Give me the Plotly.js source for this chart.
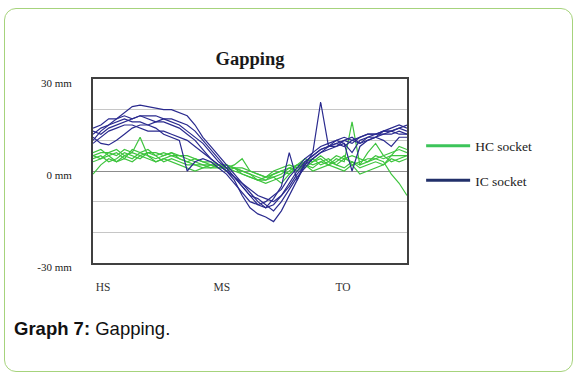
<!DOCTYPE html>
<html>
<head>
<meta charset="utf-8">
<script src="https://cdn.plot.ly/plotly-3.0.1.min.js"></script>
<style>
  html, body { margin: 0; padding: 0; background: #ffffff; }
  #wrap { position: relative; width: 578px; height: 379px; overflow: hidden; }
  #chart { position: absolute; left: 0; top: 0; width: 578px; height: 379px; }
  #frame { position: absolute; left: 4px; top: 8px; width: 567px; height: 362px;
           border: 1.5px solid #a6d37c; border-radius: 12px; pointer-events: none; }
</style>
</head>
<body>
<div id="wrap">
  <div id="chart"></div>
  <div id="frame"></div>
</div>
<script>
// Gait cycle position (% of stride)
const cycle = [0,2.5,5,7.5,10,12.5,15,17.5,20,22.5,25,27.5,30,32.5,35,37.5,40,42.5,45,47.5,50,
               52.5,55,57.5,60,62.5,65,67.5,70,72.5,75,77.5,80,82.5,85,87.5,90,92.5,95,97.5,100];

// IC socket trials (mm)
const ic1 = [12,14,15,17,19,21,21.5,21,20.5,20,20,19,18,15,11,8,5,2,-1,-4,-7,-10,-12,-11,-8,-4,0,3,5,7,8,9,10,9,11,12,12,13,14,15,14];
const ic2 = [14,15,17,17,18,17,18,17,16,16,15,14,12,10,7,4,2,0,-3,-8,-12,-14,-15,-16.5,-13,-8,-3,2,6,22.5,8,10,11,10,9,11,12,13,13,14,13];
const ic3 = [10,13,15,16,17,16,16,15,14,12,11,10,0,3,4,3,1,-1,-4,-7,-10,-11,-10,-8,-6,-2,1,4,6,8,9,10,9,0,8,10,11,12,12,13,12];
const ic4 = [11,9,8.5,10,12,14,15,15,16,17,17,16,15,13,10,7,4,1,-2,-5,-8,-9,-11,-13,-10,-6,-2,1,4,6,8,9,8,10,11,12,12,12,13,14,15];
const ic5 = [13,12,14,15,16,17,18,18,18,17,16,15,13,11,9,6,3,1,-2,-5,-8,-11,-12,-9,-5,6,-3,3,5,7,8,8,10,11,9,10,11,13,13,12,12];
const ic6 = [9,11,13,14,15,15,14,13,13,13,12,11,10,8,6,4,2,0,-2,-4,-6,-8,-9,-10,-8,-5,-1,2,4,6,7,8,9,6,10,11,11,10,8,11,11];

// HC socket trials (mm)
const hc1 = [5,4,6,5,7,6,11,5,4,5,6,4,3,4,3,2,2,1,1,0,-1,-2,-3,-2,-1,1,2,3,2,3,2,4,3,16,2,3,4,5,6,7,6];
const hc2 = [-1,2,4,3,5,4,6,5,3,4,5,4,3,2,2,1,1,1,0,-1,-2,-3,-4,-3,-2,0,2,1,3,4,2,3,5,2,3,4,4,3,-1,-4,-8];
const hc3 = [6,7,5,6,4,7,6,7,5,6,5,5,4,3,2,2,1,2,1,0,-1,-3,-2,0,1,2,1,3,4,2,3,5,4,3,2,6,9,5,3,4,5];
const hc4 = [4,5,3,4,6,5,4,6,5,3,4,3,2,2,1,2,1,1,2,4,0,-1,-2,-1,0,1,0,2,1,3,4,2,1,3,1,2,3,2,4,3,4];
const hc5 = [3,4,5,3,4,3,5,4,3,4,3,2,1,0,1,1,2,0,1,-1,-2,-3,-3,-1,0,-1,1,2,0,1,2,1,0,2,-1,0,1,2,5,8,7];
const hc6 = [5,6,6,7,5,6,5,6,6,5,6,5,5,4,3,3,2,2,1,1,0,-1,-2,-2,-4,-1,2,4,3,5,3,2,4,5,4,3,5,4,5,5,5];

const icTrials = [ic1, ic2, ic3, ic4, ic5, ic6];
const hcTrials = [hc1, hc2, hc3, hc4, hc5, hc6];

// Axis labels
const yTickVals = [-30, 0, 30];
const yTickText = ['-30 mm', '0 mm', '30 mm'];
const yGridVals = [-20, -10, 10, 20];
const xTickVals = [3.2, 41, 79.6];
const xTickText = ['HS', 'MS', 'TO'];
const seriesNames = ['HC socket', 'IC socket'];

const hcColor = '#3ec43e';
const icColor = '#2a2a8e';

const traces = [];
hcTrials.forEach(v => traces.push({
  x: cycle, y: v, type: 'scatter', mode: 'lines',
  line: {color: hcColor, width: 1.2}, legendgroup: 'hc', showlegend: false, hoverinfo: 'skip'
}));
icTrials.forEach(v => traces.push({
  x: cycle, y: v, type: 'scatter', mode: 'lines',
  line: {color: icColor, width: 1.2}, legendgroup: 'ic', showlegend: false, hoverinfo: 'skip'
}));
// legend entries
traces.push({x: [null], y: [null], type: 'scatter', mode: 'lines', name: seriesNames[0],
  line: {color: '#3cc45a', width: 3}, legendgroup: 'hc', showlegend: true});
traces.push({x: [null], y: [null], type: 'scatter', mode: 'lines', name: seriesNames[1],
  line: {color: '#22306a', width: 3}, legendgroup: 'ic', showlegend: true});

const serif = 'Liberation Serif, DejaVu Serif, serif';

const layout = {
  width: 578, height: 379,
  margin: {l: 93, r: 171, t: 79, b: 116},
  paper_bgcolor: '#ffffff', plot_bgcolor: '#ffffff',
  showlegend: true,
  title: {
    text: '<b>Gapping</b>',
    font: {family: serif, size: 18.5, color: '#1a1a1a'},
    x: 0.5, xref: 'paper', xanchor: 'center',
    y: 1 - 59 / 379, yref: 'container', yanchor: 'middle'
  },
  xaxis: {
    range: [0, 100], showgrid: false, zeroline: false,
    tickmode: 'array', tickvals: xTickVals, ticktext: xTickText,
    ticks: '', tickfont: {family: serif, size: 11.5, color: '#333'},
    ticklabelstandoff: 12,
    showline: true, mirror: true, linecolor: '#404040', linewidth: 2
  },
  yaxis: {
    range: [-30, 30], tickmode: 'array', tickvals: yTickVals, ticktext: yTickText,
    ticks: '', tickfont: {family: serif, size: 11, color: '#222'},
    ticklabelstandoff: 17, ticklabelshift: 4,
    showgrid: true, gridcolor: '#8c8c8c', gridwidth: 1,
    zeroline: true, zerolinecolor: '#8c8c8c', zerolinewidth: 1,
    minor: {tickmode: 'array', tickvals: yGridVals, showgrid: true, gridcolor: '#c6c6c6', gridwidth: 1, ticks: ''},
    showline: true, mirror: true, linecolor: '#404040', linewidth: 2
  },
  legend: {
    x: 1.045, xanchor: 'left', y: 0.72, yanchor: 'top',
    font: {family: serif, size: 13.5, color: '#222'},
    tracegroupgap: 14, traceorder: 'grouped', itemwidth: 44,
    bgcolor: 'rgba(0,0,0,0)'
  },
  annotations: [{
    text: '<b>Graph 7:</b> Gapping.',
    xref: 'paper', yref: 'paper',
    x: (12 - 93) / 314, y: (263 - 328) / 184,
    xanchor: 'left', yanchor: 'middle', showarrow: false,
    font: {family: 'Liberation Sans, Arial, sans-serif', size: 18.5, color: '#111'}
  }]
};

Plotly.newPlot('chart', traces, layout, {staticPlot: true, displayModeBar: false});
</script>
</body>
</html>
